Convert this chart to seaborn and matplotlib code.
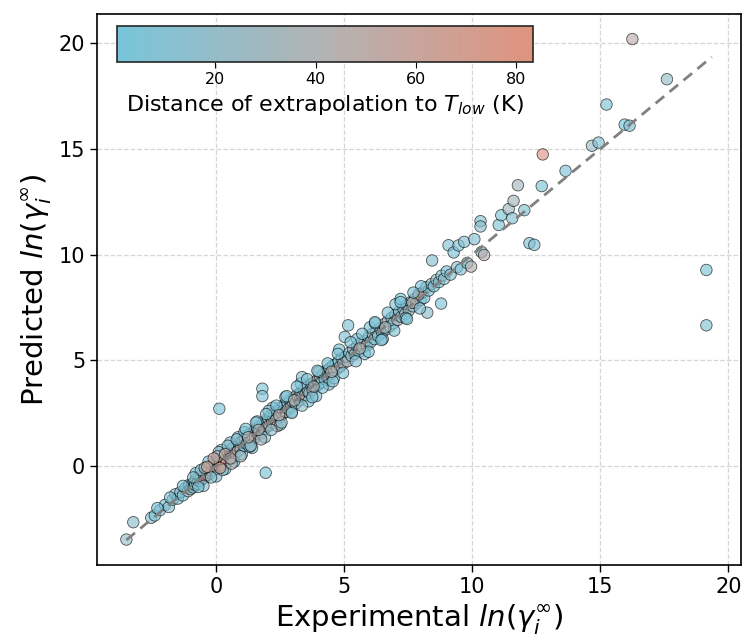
import numpy as np
import pandas as pd
import matplotlib
matplotlib.use("Agg")
import matplotlib.pyplot as plt
import seaborn as sns
from matplotlib.colors import LinearSegmentedColormap, Normalize
from matplotlib.cm import ScalarMappable

# 実験値 (ln gamma inf)
exp_vals = [
    # 低い領域
    -3.51, -3.24, -2.54, -2.4, -2.2, -2.0, -1.85, -1.7, -1.6, -1.5, -1.4, -1.3, -1.2, -1.1, -1.05, -1.0,
    # -1 ~ 1
    -0.95, -0.9, -0.85, -0.82, -0.78, -0.74, -0.7, -0.66, -0.62, -0.6, -0.55, -0.5, -0.48, -0.44, -0.4,
    -0.36, -0.33, -0.3, -0.25, -0.22, -0.18, -0.15, -0.1, -0.08, -0.04, 0.0, 0.03, 0.06, 0.1, 0.12, 0.15,
    0.2, 0.22, 0.26, 0.3, 0.33, 0.38, 0.4, 0.45, 0.5, 0.52, 0.58, 0.62, 0.66, 0.7, 0.75, 0.8, 0.84, 0.9, 0.95,
    -0.8, -0.5, -0.3, 0.0, 0.2, 0.35, 0.55, 0.7, 0.85, 1.0, -0.6, 0.1,
    # 1 ~ 3
    1.02, 1.08, 1.12, 1.18, 1.22, 1.28, 1.32, 1.38, 1.42, 1.48, 1.52, 1.58, 1.62, 1.68, 1.72, 1.78, 1.82,
    1.88, 1.92, 1.98, 2.02, 2.08, 2.12, 2.18, 2.22, 2.28, 2.32, 2.38, 2.42, 2.48, 2.52, 2.58, 2.62, 2.68,
    2.72, 2.78, 2.82, 2.88, 2.92, 2.98,
    1.1, 1.4, 1.6, 1.9, 2.2, 2.5, 2.7, 2.95, 1.3, 2.05,
    # 3 ~ 5
    3.04, 3.1, 3.15, 3.2, 3.26, 3.3, 3.36, 3.42, 3.48, 3.52, 3.58, 3.64, 3.7, 3.76, 3.82, 3.88, 3.94, 4.0,
    4.06, 4.12, 4.18, 4.24, 4.3, 4.36, 4.42, 4.48, 4.55, 4.6, 4.66, 4.72, 4.78, 4.84, 4.9, 4.96,
    3.3, 3.6, 4.0, 4.4, 4.8, 3.9, 4.6,
    # 5 ~ 8
    5.05, 5.12, 5.2, 5.28, 5.35, 5.42, 5.5, 5.58, 5.65, 5.72, 5.8, 5.88, 5.95, 6.02, 6.1, 6.18, 6.25, 6.32,
    6.4, 6.48, 6.55, 6.62, 6.7, 6.78, 6.85, 6.92, 7.0, 7.08, 7.15, 7.22, 7.3, 7.38, 7.45, 7.52, 7.6, 7.68,
    7.75, 7.82, 7.9, 7.98,
    5.15, 5.02, 5.5, 6.0, 6.5, 7.0, 6.2, 7.4, 5.8, 7.2,
    # 8 ~ 10
    8.05, 8.12, 8.2, 8.3, 8.4, 8.43, 8.5, 8.6, 8.7, 8.8, 8.9, 9.0, 9.07, 9.15, 9.27, 9.4, 9.46, 9.55, 9.68,
    9.8, 9.95,
    7.9, 7.66, 8.78, 8.24, 8.0,
    # 高い領域・外れ値
    10.08, 10.32, 10.32, 10.36, 10.46, 11.03, 11.13, 11.42, 11.56, 11.61, 11.78, 12.03, 12.23, 12.42, 12.71,
    12.75, 13.64, 14.67, 14.93, 15.24, 15.95, 16.14, 16.25, 17.6, 19.14, 19.14,
    0.12, 1.8, 1.8, 1.93, 3.35,
    # 帯の広がり
    -0.9, -0.7, -0.45, -0.2, 0.05, 0.25, 0.45, 0.6, 0.8, 0.95, 1.15, 1.35, 1.55, 1.75, 1.95, 2.15, 2.35,
    2.55, 2.75, 2.95, 3.15, 3.35, 3.55, 3.75, 3.95, 4.15, 4.35, 4.55, 4.75, 4.95, 5.25, 5.45, 5.7, 5.95,
    6.2, 6.45, 6.7, 6.95, 7.2, 7.45, 7.7, 7.95, -1.3, -1.8, -2.3,
    -0.1, 0.15, 0.35, -0.35, 0.55, 1.25, 1.65, 2.45, 3.05, 3.8, 4.5, 5.6, 6.6,
]

# 予測値
pred_vals = [
    -3.49, -2.67, -2.46, -2.35, -2.1, -1.85, -1.95, -1.6, -1.35, -1.55, -1.25, -1.4, -1.05, -1.2, -0.9, -1.1,
    -0.88, -1.02, -0.75, -0.9, -0.62, -0.85, -0.7, -0.5, -0.72, -0.55, -0.62, -0.38, -0.58, -0.3, -0.48,
    -0.2, -0.42, -0.18, -0.35, -0.05, -0.25, 0.05, -0.2, 0.12, -0.02, 0.08, -0.12, 0.25, 0.02, 0.3, 0.1,
    0.4, 0.05, 0.45, 0.22, 0.6, 0.3, 0.15, 0.62, 0.42, 0.75, 0.5, 0.82, 0.35, 0.9, 0.6, 0.95, 0.7, 1.1, 0.8,
    -0.35, -0.95, 0.2, -0.5, 0.75, -0.15, 1.1, 0.2, 1.35, 0.55, -0.2, 0.65,
    1.15, 0.95, 1.3, 1.05, 1.45, 1.12, 1.5, 1.25, 1.43, 1.65, 1.35, 1.8, 1.5, 1.62, 1.9, 1.55, 2.05,
    1.75, 2.0, 1.85, 2.25, 1.92, 2.35, 2.05, 2.3, 2.45, 2.15, 1.88, 2.6, 2.3, 2.75, 2.45, 2.6, 2.9,
    2.55, 3.0, 2.7, 3.1, 2.8, 3.05,
    1.6, 0.85, 2.1, 1.35, 2.75, 1.95, 3.25, 2.55, 0.9, 2.6,
    3.2, 2.95, 3.35, 3.22, 3.1, 3.45, 3.3, 3.6, 3.35, 3.7, 3.5, 3.45, 3.85, 3.6, 3.95, 3.75, 4.05, 3.85,
    4.2, 3.95, 4.35, 4.1, 4.5, 4.2, 4.6, 4.35, 4.75, 4.5, 4.8, 4.6, 4.95, 4.7, 5.1, 4.85,
    3.9, 3.05, 4.45, 3.85, 5.5, 3.3, 4.15,
    5.15, 4.95, 5.35, 5.2, 5.5, 5.3, 5.65, 5.4, 5.8, 5.6, 5.9, 5.7, 6.1, 5.85, 6.25, 6.0, 6.35, 6.15,
    6.5, 6.3, 6.7, 6.45, 6.85, 6.6, 7.0, 6.75, 7.15, 6.9, 7.3, 7.05, 7.45, 7.2, 7.6, 7.35, 7.75, 7.55,
    7.9, 7.7, 8.05, 7.85,
    6.65, 6.1, 6.0, 6.55, 6.0, 7.65, 6.75, 7.0, 5.3, 7.9,
    8.2, 7.95, 8.45, 8.3, 8.6, 9.72, 8.5, 8.8, 8.7, 9.0, 8.85, 9.2, 10.44, 9.05, 10.1, 9.4, 10.43, 9.3, 10.6,
    9.6, 9.43,
    8.12, 7.72, 7.68, 7.25, 8.5,
    10.73, 11.58, 11.33, 10.12, 9.98, 11.4, 11.86, 12.15, 11.72, 12.54, 13.28, 12.1, 10.54, 10.46, 13.24,
    14.74, 13.96, 15.15, 15.3, 17.1, 16.15, 16.1, 20.2, 18.3, 9.27, 6.65,
    2.7, 3.65, 3.3, -0.33, 4.2,
    -0.55, -1.0, -0.1, -0.55, 0.45, -0.2, 0.95, 0.1, 1.25, 0.45, 1.75, 0.95, 2.05, 1.25, 2.45, 1.7, 2.85,
    2.05, 3.3, 2.5, 3.75, 2.85, 4.1, 3.25, 4.5, 3.7, 4.85, 4.0, 5.3, 4.4, 5.85, 4.95, 6.25, 5.4,
    6.8, 5.95, 7.25, 6.4, 7.75, 6.95, 8.2, 7.45, -0.95, -1.5, -2.0,
    0.35, -0.1, 0.55, -0.05, 0.35, 1.35, 1.7, 2.4, 3.1, 3.75, 4.45, 5.55, 6.55,
]

# 外挿距離 (K)
dist_vals = [
    20, 15, 10, 5, 8, 3, 12, 6, 4, 10, 20, 3, 8, 30, 5, 15,
    5, 12, 30, 8, 45, 20, 3, 50, 15, 65, 40, 10, 72, 35, 80,
    6, 55, 25, 68, 42, 83, 12, 60, 4, 75, 48, 30, 58, 78, 18, 66,
    8, 52, 70, 38, 14, 62, 76, 22, 5, 45, 68, 10, 56, 28, 40, 7, 64, 18, 33,
    3, 8, 2, 10, 6, 4, 12, 7, 5, 9, 15, 20,
    10, 4, 35, 18, 6, 48, 12, 25, 70, 8, 40, 3, 55, 20, 9, 45, 14,
    30, 5, 62, 11, 38, 2, 50, 16, 7, 42, 66, 13, 28, 4, 58, 21, 6,
    36, 10, 46, 3, 24, 52,
    2, 5, 3, 8, 4, 6, 3, 7, 12, 9,
    6, 20, 45, 75, 12, 3, 38, 8, 52, 15, 4, 28, 10, 44, 7, 22, 60, 5,
    33, 11, 48, 2, 18, 40, 9, 26, 6, 35, 14, 50, 3, 24, 8, 42,
    3, 5, 2, 6, 4, 8, 5,
    8, 30, 4, 15, 42, 6, 20, 3, 35, 10, 5, 48, 12, 2, 25, 7, 38, 4,
    14, 9, 45, 3, 18, 6, 28, 5, 11, 40, 2, 16, 8, 32, 4, 22, 6, 13,
    3, 44, 9, 5,
    5, 8, 4, 3, 5, 6, 4, 3, 7, 4,
    10, 5, 18, 3, 8, 12, 6, 25, 4, 9, 15, 3, 7, 12, 5, 20, 8, 4, 10,
    6, 45,
    78, 48, 4, 15, 3,
    10, 8, 15, 5, 50, 6, 4, 28, 8, 30, 32, 6, 5, 8, 4,
    80, 5, 25, 8, 3, 2, 6, 50, 20, 4, 6,
    4, 5, 6, 3, 10,
    10, 6, 22, 9, 35, 14, 8, 40, 12, 26, 5, 18, 9, 30, 7, 12, 4,
    20, 6, 10, 5, 15, 8, 4, 12, 6, 3, 9, 5, 7, 4, 10, 6, 3,
    8, 5, 4, 9, 3, 6, 5, 8, 5, 7, 4,
    60, 72, 55, 66, 48, 42, 38, 46, 40, 35, 42, 45, 38,
]

df = pd.DataFrame({'exp': exp_vals, 'pred': pred_vals, 'dist': dist_vals})

# カラーマップ (青 -> 灰 -> サーモン)
cmap = LinearSegmentedColormap.from_list('dist_cmap', ['#78c5da', '#b3b3b3', '#e0937e'])
norm = Normalize(vmin=0.4, vmax=83.4)

sns.set_style('white', {'text.color': 'black', 'axes.labelcolor': 'black',
                        'xtick.color': 'black', 'ytick.color': 'black'})
plt.rcParams['font.family'] = ['DejaVu Sans']

fig, ax = plt.subplots(figsize=(7.47, 6.37), dpi=100)
fig.subplots_adjust(left=0.13, right=0.992, top=0.978, bottom=0.113)

sns.scatterplot(data=df, x='exp', y='pred', hue='dist', palette=cmap, hue_norm=norm,
                s=68, alpha=0.65, edgecolor='black', linewidth=0.6, legend=False, ax=ax, zorder=3)

# 対角線
lo, hi = df['exp'].min(), 19.35
ax.plot([lo, hi], [lo, hi], linestyle='--', color='gray', linewidth=2, dashes=(4, 2.5), zorder=4)

ax.grid(True, linestyle='--', color='#cccccc', linewidth=0.9, alpha=0.8)
ax.set_axisbelow(True)
for sp in ax.spines.values():
    sp.set_color('black')
    sp.set_linewidth(1.2)

ax.set_xticks([0, 5, 10, 15, 20])
ax.set_yticks([0, 5, 10, 15, 20])
ax.tick_params(axis='both', labelsize=15, length=5, width=1, colors='black', left=True, bottom=True)
ax.set_xlabel(r'Experimental $ln(\gamma_i^{\infty})$', fontsize=21)
ax.set_ylabel(r'Predicted $ln(\gamma_i^{\infty})$', fontsize=21)

# カラーバー (内側)
cax = ax.inset_axes([0.031, 0.913, 0.646, 0.066])
sm = ScalarMappable(norm=norm, cmap=cmap)
cb = fig.colorbar(sm, cax=cax, orientation='horizontal')
cb.set_ticks([20, 40, 60, 80])
cb.ax.tick_params(labelsize=11.5, length=4)
cb.outline.set_linewidth(1.2)
cb.set_label(r'Distance of extrapolation to $T_{low}$ (K)', fontsize=16)

plt.savefig('out.png', dpi=100)
plt.close()
